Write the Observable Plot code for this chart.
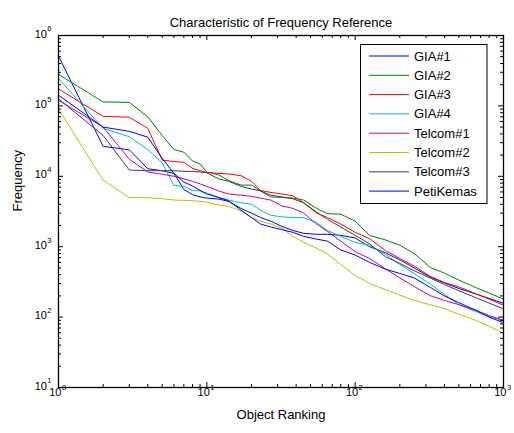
<!DOCTYPE html>
<html>
<head>
<meta charset="utf-8">
<script src="https://cdn.jsdelivr.net/npm/d3@7"></script>
<script src="https://cdn.jsdelivr.net/npm/@observablehq/plot@0.6"></script>
<style>
  html, body { margin: 0; padding: 0; background: #fff; }
  #chart svg { display: block; }
</style>
</head>
<body>
<div id="chart"></div>
<script>
// Object ranks at which each frequency curve is sampled
const ranks = [1, 2, 3, 4, 5, 6, 7, 8, 9, 10, 12, 14, 17, 20, 23, 27, 32, 38, 45, 55, 65, 80,
  100, 125, 160, 200, 250, 320, 400, 500, 650, 800, 1000];

// Request frequency per ranked object, one array per trace
const gia1 = [5.1e5, 2.66e4, 2.38e4, 1.28e4, 1.2e4, 1.1e4, 6.5e3, 5.5e3, 5.1e3, 4.9e3, 4.75e3, 4.4e3, 3.5e3, 3.0e3,
  2.6e3, 2.3e3, 1.95e3, 1.7e3, 1.55e3, 1.5e3, 1.5e3, 1.45e3, 1.33e3, 1.0e3, 820, 650, 500, 370, 305, 255, 213, 184, 157];
const gia2 = [2.8e5, 1.14e5, 1.12e5, 7.0e4, 3.8e4, 2.4e4, 2.2e4, 1.65e4, 1.5e4, 1.15e4, 1.05e4, 8.7e3, 7.5e3, 7.5e3,
  6.2e3, 5.1e3, 5.0e3, 4.9e3, 4.6e3, 3.5e3, 2.95e3, 2.9e3, 2.3e3, 1.45e3, 1.25e3, 1.05e3, 800, 510, 420, 335, 263, 219, 180];
const gia3 = [1.74e5, 7.1e4, 6.9e4, 4.8e4, 1.7e4, 1.62e4, 1.58e4, 1.3e4, 1.2e4, 1.13e4, 1.1e4, 1.08e4, 1.02e4, 8.5e3,
  6.3e3, 5.9e3, 5.6e3, 5.3e3, 4.2e3, 3.0e3, 2.6e3, 2.1e3, 1.6e3, 1.3e3, 880, 680, 530, 380, 310, 268, 215, 180, 148];
const gia4 = [2.45e5, 4.8e4, 3.65e4, 2.4e4, 1.55e4, 7.4e3, 7.2e3, 6.3e3, 6.2e3, 5.8e3, 5.0e3, 4.6e3, 4.2e3, 4.0e3,
  3.3e3, 2.8e3, 2.65e3, 2.6e3, 2.58e3, 2.2e3, 1.7e3, 1.4e3, 1.15e3, 1.05e3, 780, 560, 415, 295, 210, 150, 120, 102, 88];
const telcom1 = [1.2e5, 5.0e4, 1.75e4, 1.15e4, 1.07e4, 1.0e4, 9.2e3, 8.5e3, 7.8e3, 7.2e3, 6.2e3, 5.6e3, 5.4e3, 5.2e3,
  4.9e3, 4.6e3, 3.8e3, 3.5e3, 3.0e3, 2.1e3, 1.65e3, 1.2e3, 850, 680, 485, 360, 272, 202, 172, 150, 125, 105, 90];
const telcom2 = [9.0e4, 8.8e3, 5.0e3, 4.95e3, 4.8e3, 4.6e3, 4.55e3, 4.5e3, 4.4e3, 4.3e3, 3.9e3, 3.75e3, 3.2e3, 2.6e3,
  2.3e3, 2.1e3, 1.85e3, 1.4e3, 1.15e3, 950, 790, 560, 390, 300, 245, 205, 172, 150, 132, 110, 90, 74, 59];
const telcom3 = [1.26e5, 3.8e4, 1.23e4, 1.2e4, 1.2e4, 1.2e4, 1.18e4, 1.17e4, 1.15e4, 1.12e4, 9.2e3, 8.5e3, 7.2e3, 6.6e3,
  6.2e3, 5.4e3, 5.1e3, 4.8e3, 4.2e3, 3.1e3, 2.45e3, 1.9e3, 1.45e3, 1.1e3, 720, 580, 455, 359, 290, 237, 189, 158, 131];
const petikemas = [1.42e5, 5.0e4, 4.35e4, 3.6e4, 1.8e4, 1.1e4, 8.3e3, 7.3e3, 6.3e3, 5.6e3, 5.0e3, 4.5e3, 3.3e3, 2.6e3,
  2.1e3, 1.9e3, 1.75e3, 1.6e3, 1.4e3, 1.28e3, 1.2e3, 900, 760, 600, 480, 417, 360, 265, 200, 160, 125, 100, 83];

const seriesNames = ["GIA#1", "GIA#2", "GIA#3", "GIA#4", "Telcom#1", "Telcom#2", "Telcom#3", "PetiKemas"];
const seriesValues = [gia1, gia2, gia3, gia4, telcom1, telcom2, telcom3, petikemas];
const seriesColors = ["#0000ff", "#008000", "#ff0000", "#00bfbf", "#bf00bf", "#bfbf00", "#404040", "#0000ff"];

// Decade tick positions
const xMajor = [1, 10, 100, 1000];
const yMajor = [1e1, 1e2, 1e3, 1e4, 1e5, 1e6];
const xMinor = d3.range(0, 3).flatMap(e => d3.range(2, 10).map(k => k * 10 ** e));
const yMinor = d3.range(1, 6).flatMap(e => d3.range(2, 10).map(k => k * 10 ** e));

const titleText = "Characteristic of Frequency Reference";
const xLabel = "Object Ranking";
const yLabel = "Frequency";

// Long-format rows for the line mark
const rows = [];
seriesNames.forEach((name, i) => {
  seriesValues[i].forEach((v, j) => rows.push({series: name, rank: ranks[j], freq: v}));
});

const W = 514, H = 433;
const margin = {top: 35, right: 11, bottom: 46, left: 58};
const innerW = W - margin.left - margin.right;
const innerH = H - margin.top - margin.bottom;
const font = "'Liberation Sans', Arial, Helvetica, sans-serif";
const expOf = d => String(Math.round(Math.log10(d)));

const chart = Plot.plot({
  width: W,
  height: H,
  marginTop: margin.top,
  marginRight: margin.right,
  marginBottom: margin.bottom,
  marginLeft: margin.left,
  style: {fontFamily: font, background: "#fff", color: "#000"},
  x: {type: "log", domain: [1, 1000], axis: null},
  y: {type: "log", domain: [10, 1e6], axis: null},
  color: {domain: seriesNames, range: seriesColors},
  marks: [
    Plot.line(rows, {x: "rank", y: "freq", z: "series", stroke: "series", strokeWidth: 1}),

    // inward ticks on all four sides
    Plot.tickX(xMajor, {x: d => d, insetTop: innerH - 5, stroke: "#000"}),
    Plot.tickX(xMajor, {x: d => d, insetBottom: innerH - 5, stroke: "#000"}),
    Plot.tickX(xMinor, {x: d => d, insetTop: innerH - 3, stroke: "#000"}),
    Plot.tickX(xMinor, {x: d => d, insetBottom: innerH - 3, stroke: "#000"}),
    Plot.tickY(yMajor, {y: d => d, insetRight: innerW - 5, stroke: "#000"}),
    Plot.tickY(yMajor, {y: d => d, insetLeft: innerW - 5, stroke: "#000"}),
    Plot.tickY(yMinor, {y: d => d, insetRight: innerW - 3, stroke: "#000"}),
    Plot.tickY(yMinor, {y: d => d, insetLeft: innerW - 3, stroke: "#000"}),

    // power-of-ten tick labels
    Plot.text(xMajor, {x: d => d, text: () => "10", frameAnchor: "bottom", textAnchor: "end", dx: 3, dy: 8.5, fontSize: 11, fill: "#000"}),
    Plot.text(xMajor, {x: d => d, text: expOf, frameAnchor: "bottom", textAnchor: "start", dx: 3.4, dy: 2.5, fontSize: 7.5, fill: "#000"}),
    Plot.text(yMajor, {y: d => d, text: () => "10", frameAnchor: "left", textAnchor: "end", dx: -11.5, dy: -1.5, fontSize: 11, fill: "#000"}),
    Plot.text(yMajor, {y: d => d, text: expOf, frameAnchor: "left", textAnchor: "start", dx: -11.2, dy: -6.5, fontSize: 7.5, fill: "#000"}),

    // title and axis labels
    Plot.text([titleText], {text: d => d, frameAnchor: "top", dy: -18, fontSize: 13, fill: "#000"}),
    Plot.text([xLabel], {text: d => d, frameAnchor: "bottom", dy: 31, fontSize: 13, fill: "#000"}),
    Plot.text([yLabel], {text: d => d, frameAnchor: "left", dx: -41, rotate: -90, fontSize: 13, fill: "#000"}),

    Plot.frame({stroke: "#000", strokeWidth: 1.3})
  ]
});

// Legend box in the upper right corner of the axes
const svg = d3.select(chart);
const legend = svg.append("g")
  .attr("font-family", font)
  .attr("font-size", 13)
  .attr("text-anchor", "start");
const lx = 360.5, ly = 44.5, lw = 126.5, lh = 159, rowGap = 19.3;
legend.append("rect")
  .attr("x", lx).attr("y", ly).attr("width", lw).attr("height", lh)
  .attr("fill", "#fff").attr("stroke", "#000").attr("stroke-width", 1);
seriesNames.forEach((name, i) => {
  const cy = ly + 11.5 + i * rowGap;
  legend.append("line")
    .attr("x1", lx + 8.5).attr("x2", lx + 48.5)
    .attr("y1", cy).attr("y2", cy)
    .attr("stroke", seriesColors[i]).attr("stroke-width", 1);
  legend.append("text")
    .attr("x", lx + 53.5).attr("y", cy)
    .attr("dy", "0.35em")
    .attr("text-anchor", "start")
    .attr("fill", "#000")
    .text(name);
});

document.getElementById("chart").appendChild(chart);
</script>
</body>
</html>
